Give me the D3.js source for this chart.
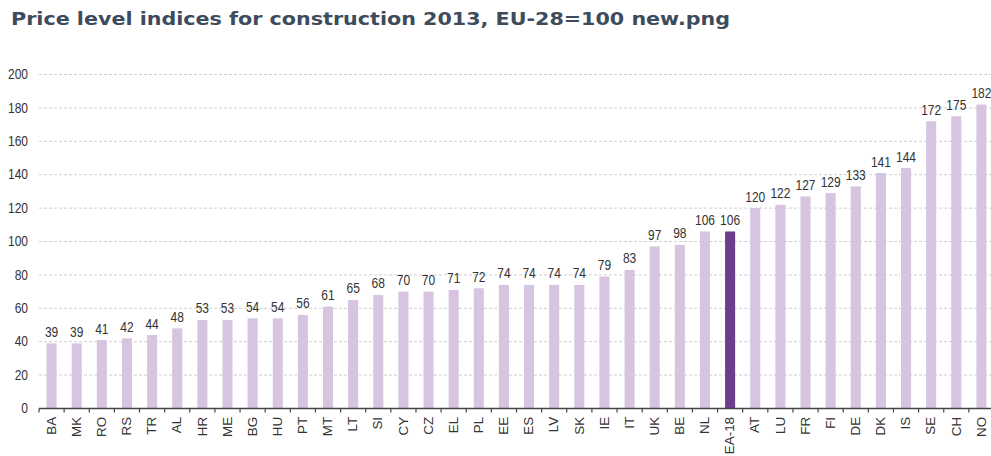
<!DOCTYPE html>
<html><head><meta charset="utf-8">
<script src="https://cdn.jsdelivr.net/npm/d3@7"></script>
<style>
html,body{margin:0;padding:0;background:#fff;}
svg{display:block;}
</style></head>
<body>
<svg id="chart" width="991" height="456"></svg>
<script>
const titleText = "Price level indices for construction 2013, EU-28=100 new.png";
const categories = ["BA","MK","RO","RS","TR","AL","HR","ME","BG","HU","PT","MT","LT","SI","CY","CZ","EL","PL","EE","ES","LV","SK","IE","IT","UK","BE","NL","EA-18","AT","LU","FR","FI","DE","DK","IS","SE","CH","NO"];
const values = [39,39,41,42,44,48,53,53,54,54,56,61,65,68,70,70,71,72,74,74,74,74,79,83,97,98,106,106,120,122,127,129,133,141,144,172,175,182];
const highlighted = ["EA-18"];
const yTicks = [0,20,40,60,80,100,120,140,160,180,200];

const svg = d3.select("#chart");
const x = d3.scaleBand().domain(categories).range([39, 994]).paddingInner(0.6).paddingOuter(0.3);
const y = d3.scaleLinear().domain([0, 200]).range([408.5, 74.5]);
const FONT = "'Liberation Sans', Arial, sans-serif";

// title
svg.append("text").attr("x", 11).attr("y", 24.5)
  .attr("font-family", "Verdana, 'DejaVu Sans', sans-serif").attr("font-weight", "bold")
  .attr("font-size", 18).attr("fill", "#3d4b5c")
  .attr("textLength", 719).attr("lengthAdjust", "spacingAndGlyphs")
  .text(titleText);

// gridlines
svg.append("g").selectAll("line").data(yTicks.filter(d => d > 0)).join("line")
  .attr("x1", 39).attr("x2", 991)
  .attr("y1", d => y(d)).attr("y2", d => y(d))
  .attr("stroke", "#cfcfcf").attr("stroke-width", 1).attr("stroke-dasharray", "3,2");

// y axis labels
const yAxis = d3.axisLeft(y).tickValues(yTicks).tickSize(0).tickPadding(0);
const gy = svg.append("g").attr("transform", "translate(28,0)").call(yAxis);
gy.select(".domain").remove();
gy.selectAll("text").attr("font-family", FONT)
  .attr("font-size", 12).attr("fill", "#333").attr("x", 0).attr("dy", "0.3em")
  .attr("transform", "scale(1,1.18)");

// bars
svg.append("g").selectAll("rect").data(categories).join("rect")
  .attr("x", d => x(d)).attr("width", x.bandwidth())
  .attr("y", (d, i) => y(values[i])).attr("height", (d, i) => y(0) - y(values[i]))
  .attr("fill", d => highlighted.includes(d) ? "#6b3d8b" : "#d6c4e1");

// value labels
svg.append("g").selectAll("text").data(categories).join("text")
  .attr("transform", (d, i) => `translate(${x(d) + x.bandwidth() / 2},${y(values[i]) - 6.5}) scale(1,1.18)`)
  .attr("text-anchor", "middle")
  .attr("font-family", FONT).attr("font-size", 12)
  .attr("fill", "#333").text((d, i) => values[i]);

// x axis
const xAxis = d3.axisBottom(x).tickSize(0).tickSizeOuter(0);
const gx = svg.append("g").attr("transform", `translate(0,${y(0)})`).call(xAxis);
gx.select(".domain").attr("stroke", "#444").attr("stroke-width", 1.5).attr("d", `M39,0H991`);
gx.selectAll(".tick text")
  .attr("font-family", FONT).attr("font-size", 12)
  .attr("fill", "#333")
  .attr("transform", "rotate(-90) scale(1.12,1)")
  .attr("text-anchor", "end")
  .attr("x", -7.5).attr("y", 0).attr("dy", "0.35em");
// boundary tick marks
const step = x.step();
const bounds = categories.map(c => x(c) - (step - x.bandwidth()) / 2);
gx.append("g").selectAll("line").data(bounds).join("line")
  .attr("x1", d => d).attr("x2", d => d).attr("y1", 0).attr("y2", 4)
  .attr("stroke", "#444").attr("stroke-width", 1.2);
</script>
</body></html>
